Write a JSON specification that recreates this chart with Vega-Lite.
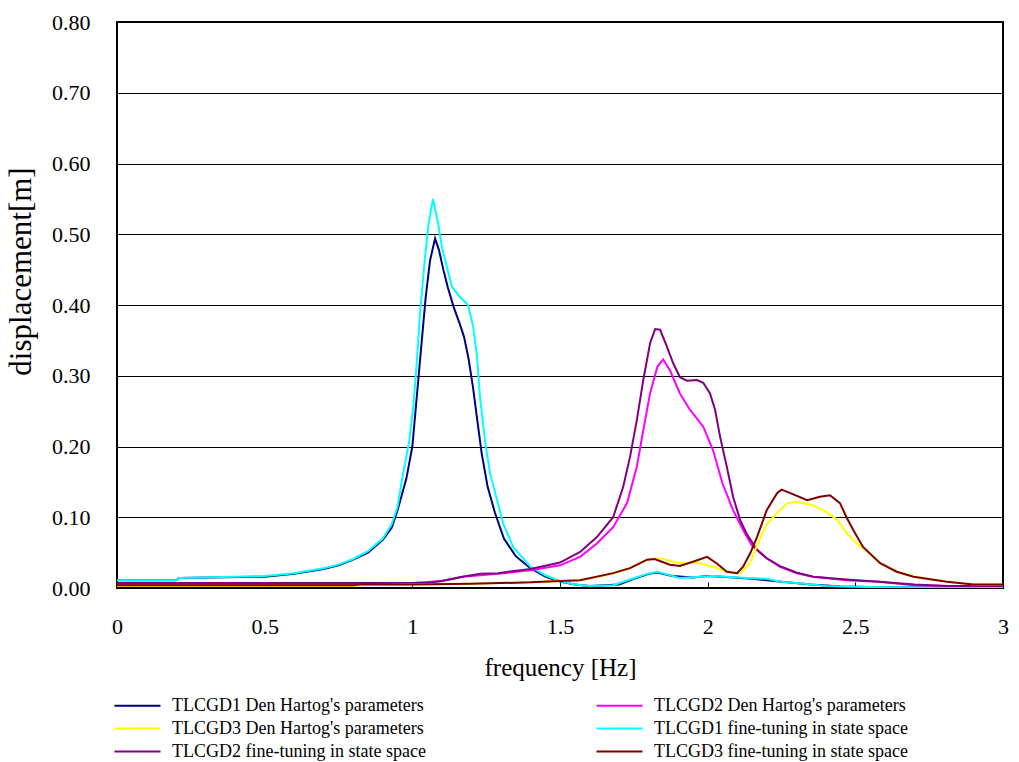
{
 "$schema": "https://vega.github.io/schema/vega-lite/v6.json",
 "width": 886, "height": 566,
 "autosize": "none",
 "padding": {"left": 117, "top": 22, "right": 16, "bottom": 174},
 "background": "white",
 "config": {"view": {"stroke": "#000", "strokeWidth": 2}, "font": "Liberation Serif"},
 "data": {"values": [
  {"s": "D1", "f": [0,0.2,0.21,0.5,0.6,0.7,0.75,0.8,0.85,0.9,0.93,0.95,0.98,1.0,1.015,1.03,1.045,1.06,1.077,1.09,1.105,1.12,1.14,1.16,1.175,1.19,1.205,1.22,1.235,1.255,1.28,1.31,1.35,1.4,1.45,1.5,1.55,1.6,1.7,1.75,1.8,1.83,1.88,1.95,2.0,2.05,2.15,2.25,2.35,2.45,2.6,3.0],
   "d": [0.011,0.011,0.014,0.016,0.02,0.027,0.032,0.04,0.05,0.068,0.085,0.11,0.155,0.2,0.27,0.34,0.41,0.463,0.494,0.478,0.45,0.425,0.397,0.374,0.355,0.325,0.285,0.237,0.19,0.143,0.106,0.07,0.045,0.028,0.016,0.009,0.005,0.003,0.005,0.013,0.02,0.022,0.017,0.015,0.017,0.016,0.013,0.009,0.005,0.002,0.001,0.001]},
  {"s": "F1", "f": [0,0.2,0.21,0.5,0.6,0.7,0.75,0.8,0.85,0.9,0.93,0.95,0.965,0.99,1.003,1.015,1.026,1.043,1.055,1.07,1.087,1.1,1.117,1.134,1.162,1.189,1.206,1.219,1.229,1.246,1.263,1.287,1.307,1.341,1.4,1.45,1.5,1.55,1.6,1.68,1.737,1.795,1.83,1.906,2.018,2.133,2.2,2.245,2.3,2.4,2.45,2.6,3.0],
   "d": [0.011,0.011,0.014,0.017,0.021,0.028,0.033,0.041,0.052,0.07,0.09,0.115,0.153,0.209,0.256,0.318,0.388,0.468,0.515,0.55,0.516,0.482,0.454,0.426,0.411,0.4,0.369,0.327,0.27,0.209,0.162,0.124,0.092,0.058,0.03,0.018,0.01,0.005,0.003,0.004,0.012,0.02,0.023,0.014,0.017,0.014,0.013,0.009,0.007,0.003,0.002,0.001,0.001]},
  {"s": "D2", "f": [0,0.9,1.0,1.1,1.17,1.29,1.4,1.5,1.568,1.625,1.68,1.727,1.76,1.782,1.805,1.83,1.849,1.872,1.906,1.94,1.985,2.018,2.05,2.086,2.12,2.15,2.2,2.245,2.3,2.357,2.47,2.58,2.7,2.81,3.0],
   "d": [0.006,0.006,0.007,0.01,0.016,0.02,0.025,0.032,0.044,0.063,0.086,0.12,0.171,0.223,0.275,0.313,0.323,0.308,0.275,0.252,0.228,0.195,0.148,0.11,0.082,0.06,0.042,0.03,0.021,0.016,0.011,0.009,0.004,0.003,0.003]},
  {"s": "F2", "f": [0,1.05,1.1,1.17,1.23,1.29,1.4,1.5,1.568,1.625,1.68,1.714,1.737,1.76,1.782,1.805,1.822,1.839,1.862,1.883,1.906,1.93,1.964,1.985,2.008,2.025,2.042,2.065,2.086,2.11,2.133,2.167,2.2,2.245,2.3,2.357,2.47,2.58,2.7,2.81,3.0],
   "d": [0.007,0.007,0.01,0.016,0.02,0.021,0.027,0.036,0.051,0.072,0.1,0.143,0.185,0.237,0.294,0.346,0.366,0.365,0.341,0.318,0.298,0.293,0.294,0.29,0.275,0.252,0.214,0.171,0.129,0.096,0.076,0.054,0.042,0.031,0.022,0.016,0.012,0.009,0.005,0.003,0.003]},
  {"s": "D3", "f": [0,0.8,0.82,1.0,1.2,1.4,1.5,1.568,1.68,1.737,1.795,1.84,1.906,1.964,2.018,2.065,2.11,2.144,2.167,2.2,2.235,2.27,2.3,2.357,2.4,2.44,2.47,2.505,2.55,2.584,2.64,2.7,2.81,2.9,3.0],
   "d": [0.003,0.003,0.004,0.005,0.006,0.008,0.01,0.011,0.02,0.028,0.04,0.042,0.035,0.036,0.03,0.023,0.021,0.035,0.06,0.09,0.106,0.12,0.122,0.117,0.108,0.096,0.078,0.063,0.049,0.035,0.023,0.016,0.009,0.005,0.005]},
  {"s": "F3", "f": [0,0.8,0.82,1.0,1.2,1.4,1.5,1.568,1.68,1.737,1.795,1.82,1.872,1.906,1.95,1.998,2.03,2.065,2.1,2.12,2.144,2.167,2.2,2.235,2.25,2.28,2.337,2.38,2.414,2.448,2.47,2.493,2.526,2.584,2.64,2.697,2.81,2.9,3.0],
   "d": [0.004,0.004,0.005,0.005,0.006,0.008,0.01,0.011,0.021,0.028,0.04,0.041,0.033,0.031,0.037,0.044,0.035,0.023,0.021,0.03,0.049,0.072,0.11,0.134,0.139,0.134,0.124,0.129,0.131,0.12,0.1,0.082,0.058,0.035,0.023,0.016,0.009,0.005,0.005]}
 ]},
 "transform": [{"flatten": ["f", "d"]}],
 "mark": {"type": "line", "strokeWidth": 2, "clip": true},
 "encoding": {
  "x": {"field": "f", "type": "quantitative",
   "scale": {"domain": [0, 3], "nice": false, "zero": false},
   "axis": {"title": "frequency [Hz]", "values": [0, 0.5, 1, 1.5, 2, 2.5, 3], "format": "~g", "grid": false,
    "tickSize": -6, "tickColor": "#000", "tickWidth": 1, "domain": false,
    "labelFont": "Liberation Serif", "labelFontSize": 22, "labelColor": "#000", "labelPadding": 34, "labelFlush": false,
    "titleFont": "Liberation Serif", "titleFontSize": 25, "titleFontWeight": "normal", "titleColor": "#000", "titlePadding": 18}},
  "y": {"field": "d", "type": "quantitative",
   "scale": {"domain": [0, 0.8], "nice": false},
   "axis": {"title": "displacement[m]", "values": [0, 0.1, 0.2, 0.3, 0.4, 0.5, 0.6, 0.7, 0.8], "format": ".2f",
    "grid": true, "gridColor": "#000", "gridOpacity": 1, "gridWidth": 1, "ticks": false, "domain": false,
    "labelFont": "Liberation Serif", "labelFontSize": 22, "labelColor": "#000", "labelPadding": 27,
    "titleFont": "Liberation Serif", "titleFontSize": 31, "titleFontWeight": "normal", "titleColor": "#000", "titlePadding": 14, "titleY": 249}},
  "color": {"field": "s", "type": "nominal",
   "scale": {"domain": ["D1", "D3", "F2", "D2", "F1", "F3"], "range": ["#000080", "#FFFF00", "#800080", "#FF00FF", "#00FFFF", "#800000"]},
   "legend": {"title": null, "orient": "none", "legendX": 8, "legendY": 671, "columns": 2, "columnPadding": 166, "rowPadding": 1,
    "symbolType": "M-2,0H2", "symbolSize": 529, "symbolStrokeWidth": 2, "labelOffset": 22,
    "labelFont": "Liberation Serif", "labelFontSize": 18, "labelColor": "#000", "labelLimit": 0,
    "labelExpr": "{'D1': \"TLCGD1 Den Hartog's parameters\", 'D2': \"TLCGD2 Den Hartog's parameters\", 'D3': \"TLCGD3 Den Hartog's parameters\", 'F1': 'TLCGD1 fine-tuning in state space', 'F2': 'TLCGD2 fine-tuning in state space', 'F3': 'TLCGD3 fine-tuning in state space'}[datum.label]"}}
 }
}
